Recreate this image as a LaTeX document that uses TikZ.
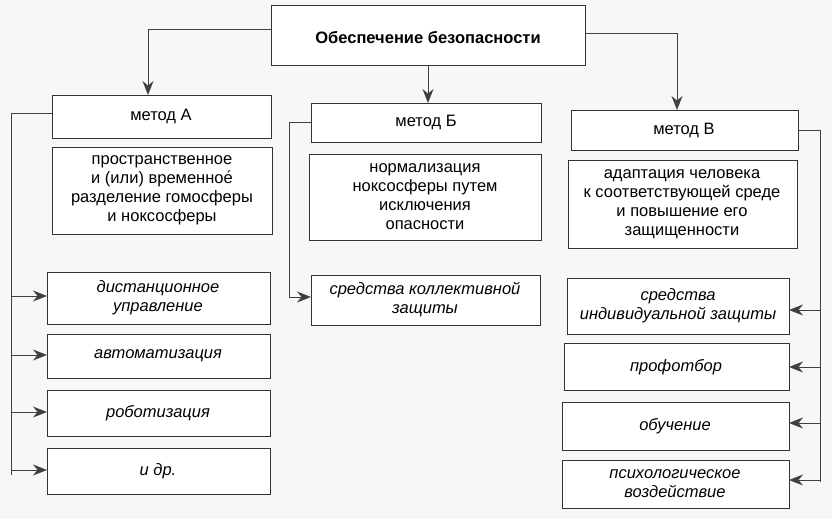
\documentclass[tikz,border=0pt]{standalone}
\usepackage{fontspec}
\setmainfont{Liberation Sans}
\usetikzlibrary{arrows.meta}
\begin{document}
\begin{tikzpicture}[x=1pt,y=-1pt,
  bx/.style={draw=black!80,line width=1pt,fill=white},
  ln/.style={draw=black!75,line width=1pt},
  ar/.style={ln,-{Stealth[length=14pt,width=11pt]}},
  tx/.style={font=\fontsize{16.5}{19}\selectfont,align=center},
  it/.style={tx,font=\fontsize{16.5}{19}\selectfont\itshape}]
\useasboundingbox (0,0) rectangle (832,519);
\fill[black!3] (0,0) rectangle (832,519);
\draw[bx] (271,6) rectangle (585,66);
\node[tx,font=\fontsize{16.5}{19}\selectfont\bfseries] (top) at (428,38) {Обеспечение безопасности};
\coordinate (topL) at (271,30); \coordinate (topR) at (585,34); \coordinate (topB) at (428,66);
% methods
\draw[bx] (52,95) rectangle (271,138); \node[tx] (mA) at (161,116) {метод А};
\draw[bx] (311,103) rectangle (541,142); \node[tx] (mB) at (426,122) {метод Б};
\draw[bx] (571,110) rectangle (798,150); \node[tx] (mC) at (684,130) {метод В};
\coordinate (mAt) at (148,95); \coordinate (mBt) at (428,103); \coordinate (mCt) at (677,110);
\draw[ar] (topL) -| (mAt);
\draw[ar] (topB) -- (mBt);
\draw[ar] (topR) -| (mCt);
% descriptions
\draw[bx] (52,147) rectangle (272,234);
\node[tx] (dA) at (162,190) {пространственное\\и (или) временно\'е\\разделение гомосферы\\и ноксосферы};
\draw[bx] (309,154) rectangle (541,240);
\node[tx] (dB) at (425,197) {нормализация\\ноксосферы путем\\исключения\\опасности};
\draw[bx] (568,160) rectangle (797,248);
\node[tx] (dC) at (682,204) {адаптация человека\\к соответствующей среде\\и повышение его\\защищенности};
% A items
\draw[bx] (47,272) rectangle (270,324); \node[it] (a1) at (158,298) {дистанционное\\управление};
\draw[bx] (47,334) rectangle (270,378); \node[it] (a2) at (158,356) {автоматизация};
\draw[bx] (47,390) rectangle (270,436); \node[it] (a3) at (158,413) {роботизация};
\draw[bx] (47,448) rectangle (270,494); \node[it] (a4) at (158,471) {и др.};
\coordinate (aS) at (52,113); \coordinate (aX) at (11,113);
\draw[ln] (aS) -- (aX) -- (11,475);
\foreach \y in {296,355,412,470} \draw[ar] (11,\y) -- (47,\y);
% B item
\draw[bx] (311,275) rectangle (540,325); \node[it] (b1) at (425,300) {средства коллективной\\защиты};
\coordinate (bS) at (311,122);
\draw[ln] (bS) -- (289,122) -- (289,297);
\draw[ar] (289,297) -- (311,297);
% C items
\draw[bx] (567,278) rectangle (789,334); \node[it] (c1) at (678,306) {средства\\индивидуальной защиты};
\draw[bx] (564,343) rectangle (789,390); \node[it] (c2) at (676,367) {профотбор};
\draw[bx] (562,402) rectangle (789,450); \node[it] (c3) at (675,426) {обучение};
\draw[bx] (562,460) rectangle (789,508); \node[it] (c4) at (675,484) {психологическое\\воздействие};
\coordinate (cS) at (798,130);
\draw[ln] (cS) -- (820,130) -- (820,482);
\foreach \y in {310,367,423,480} \draw[ar] (820,\y) -- (789,\y);
\end{tikzpicture}
\end{document}
